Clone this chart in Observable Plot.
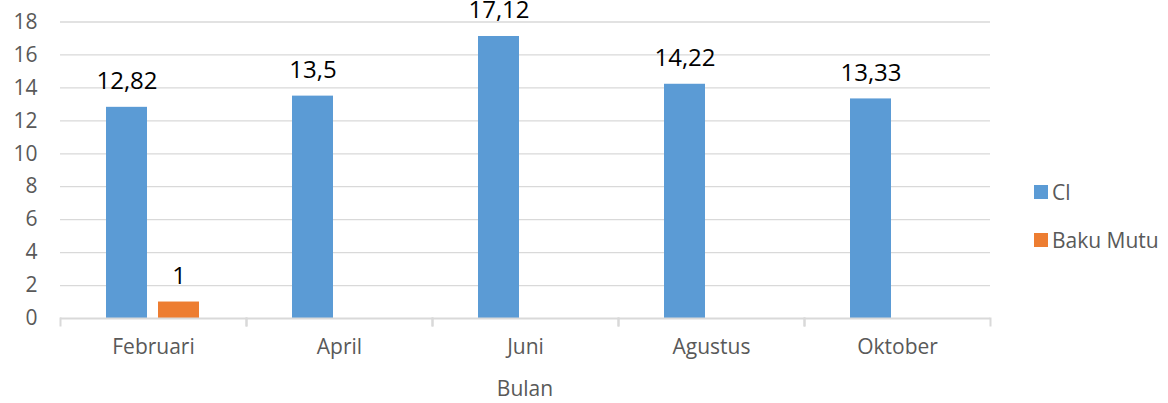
<!DOCTYPE html>
<html>
<head>
<meta charset="utf-8">
<script src="https://cdn.jsdelivr.net/npm/d3@7"></script>
<script src="https://cdn.jsdelivr.net/npm/@observablehq/plot@0.6"></script>
<style>
  html, body { margin: 0; padding: 0; background: #fff; }
  #wrap { position: relative; width: 1168px; height: 403px; font-family: "Open Sans", sans-serif; }
  #xlabel { position: absolute; left: 425px; width: 200px; top: 374px; text-align: center; font-size: 21px; color: #595959; line-height: 28px; }
  #legend { position: absolute; left: 1034px; top: 176px; font-size: 21px; color: #595959; }
  .li { display: flex; align-items: center; height: 32px; margin-bottom: 16px; }
  .sw { width: 14px; height: 14px; margin-right: 4px; }
</style>
</head>
<body>
<div id="wrap">
  <div id="chart"></div>
  <div id="xlabel"></div>
  <div id="legend"></div>
</div>
<script>
const months = ["Februari", "April", "Juni", "Agustus", "Oktober"];
const clValues = [12.82, 13.5, 17.12, 14.22, 13.33];
const bakuMutuValues = [1, null, null, null, null];
const seriesNames = ["Cl", "Baku Mutu"];
const seriesColors = ["#5B9BD5", "#ED7D31"];
const yTicks = [0, 2, 4, 6, 8, 10, 12, 14, 16, 18];
const xTitle = "Bulan";

const data = [];
months.forEach((m, i) => {
  data.push({ bulan: m, series: "Cl", value: clValues[i] });
  if (bakuMutuValues[i] != null) data.push({ bulan: m, series: "Baku Mutu", value: bakuMutuValues[i] });
});
const fmt = v => String(v).replace(".", ",");

const chart = Plot.plot({
  width: 1168,
  height: 403,
  marginLeft: 58,
  marginRight: 176,
  marginTop: 21.5,
  marginBottom: 85,
  style: { fontFamily: "Open Sans, sans-serif", fontSize: "21px", color: "#595959", background: "#fff", overflow: "visible" },
  fx: { domain: months, padding: 0, label: null },
  x: { domain: seriesNames, paddingInner: 0.2075, paddingOuter: 0.866, axis: null },
  y: { domain: [0, 18], label: null },
  color: { domain: seriesNames, range: seriesColors },
  marks: [
    Plot.gridY(yTicks.filter(t => t > 0), { stroke: "#d9d9d9", strokeOpacity: 1, strokeWidth: 1.3 }),
    Plot.axisY(yTicks, { tickSize: 0, tickPadding: 23, label: null, fontSize: 21, fill: "#595959", tickFormat: d => String(d) }),
    Plot.axisFx({ anchor: "bottom", tickSize: 0, tickPadding: 21, label: null, fontSize: 21, fill: "#595959" }),
    Plot.barY(data, { fx: "bulan", x: "series", y: "value", fill: "series" }),
    Plot.text(data, { fx: "bulan", x: "series", y: "value", text: d => fmt(d.value), dy: -26, fontSize: 24, fill: "#000", lineAnchor: "middle" }),
    Plot.ruleY([0], { stroke: "#d9d9d9", strokeWidth: 2 }),
    Plot.frame({ anchor: "left", insetTop: 296.5, insetBottom: -7, stroke: "#d9d9d9", strokeWidth: 2 }),
    Plot.frame({ anchor: "right", insetTop: 296.5, insetBottom: -7, stroke: "#d9d9d9", strokeWidth: 2 })
  ]
});
document.getElementById("chart").appendChild(chart);
document.getElementById("xlabel").textContent = xTitle;

const legend = document.getElementById("legend");
seriesNames.forEach((s, i) => {
  const row = document.createElement("div");
  row.className = "li";
  const sw = document.createElement("div");
  sw.className = "sw";
  sw.style.background = seriesColors[i];
  const t = document.createElement("span");
  t.textContent = s;
  row.appendChild(sw);
  row.appendChild(t);
  legend.appendChild(row);
});
</script>
</body>
</html>
